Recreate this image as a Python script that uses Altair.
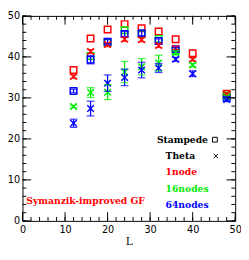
import altair as alt
import pandas as pd

# ---------------- data ----------------
L = [12, 16, 20, 24, 28, 32, 36, 40, 48]
stampede_1node = [36.8, 44.5, 46.7, 48.0, 47.0, 46.2, 44.3, 40.9, 31.0]
stampede_16_L = [16, 20, 24, 28, 32, 36, 48]
stampede_16 = [40.2, 43.5, 46.5, 45.6, 44.4, 41.5, 30.6]
stampede_64_L = [12, 16, 20, 24, 28, 32, 36, 48]
stampede_64 = [31.7, 39.3, 43.7, 45.6, 45.8, 43.9, 41.9, 30.0]
stampede_64_err = [0.4, 1.0, 0.5, 0.6, 0.6, 0.5, 0.4, 0.3]
theta_1node = [35.2, 41.3, 43.0, 44.3, 44.2, 42.8, 42.1, 39.4, 30.9]
theta_1node_err = [0.4, 0.5, 0.5, 0.5, 0.5, 0.5, 0.4, 0.4, 0.3]
theta_16 = [27.9, 31.3, 31.4, 36.3, 37.6, 38.5, 41.0, 38.0, 30.3]
theta_16_err = [0.3, 1.2, 1.8, 2.6, 2.0, 1.9, 0.5, 0.4, 0.3]
theta_64 = [23.8, 27.4, 33.6, 35.0, 36.8, 37.3, 39.4, 35.9, 29.6]
theta_64_err = [1.0, 1.8, 2.0, 2.0, 1.9, 1.1, 0.5, 0.7, 0.5]

node_names = ["1node", "16nodes", "64nodes"]
node_colors = ["#ff0000", "#00ee00", "#0000ff"]
major_ticks = [0, 10, 20, 30, 40, 50]
minor_ticks = list(range(0, 51, 2))
legend_labels = ["Stampede", "Theta", "1node", "16nodes", "64nodes", "Symanzik-improved GF"]

rows = []
def add(machine, nodes, Ls, vals, errs=None):
    for i, (l, v) in enumerate(zip(Ls, vals)):
        e = errs[i] if errs else 0.0
        rows.append({"machine": machine, "nodes": nodes, "order": node_names.index(nodes),
                     "L": l, "v": v, "lo": v - e, "hi": v + e, "err": e})

add("Stampede", "1node", L, stampede_1node)
add("Stampede", "16nodes", stampede_16_L, stampede_16)
add("Stampede", "64nodes", stampede_64_L, stampede_64, stampede_64_err)
add("Theta", "1node", L, theta_1node, theta_1node_err)
add("Theta", "16nodes", L, theta_16, theta_16_err)
add("Theta", "64nodes", L, theta_64, theta_64_err)
df = pd.DataFrame(rows).sort_values("order", kind="stable")
sq = df[df.machine == "Stampede"]
th = df[df.machine == "Theta"]
eb = df[df.err > 0]

W, H = 220, 212
xs = alt.Scale(domain=[0, 50], nice=False, zero=False)
ys = alt.Scale(domain=[0, 50], nice=False, zero=False)
col = alt.Color("nodes:N", scale=alt.Scale(domain=node_names, range=node_colors), legend=None)

x_axis = alt.Axis(orient="bottom", values=major_ticks, ticks=False, tickSize=0, domain=False, grid=False,
                  labelFont="DejaVu Sans", labelFontSize=10, labelColor="black", labelPadding=4,
                  labelFlush=False, title="L", titleFont="DejaVu Serif", titleFontSize=11,
                  titleFontWeight="normal", titleColor="black", titlePadding=1)
y_axis = alt.Axis(orient="left", values=major_ticks, ticks=False, tickSize=0, domain=False, grid=False,
                  labelFont="DejaVu Sans", labelFontSize=10, labelColor="black", labelPadding=3,
                  title=None)


def X(f):
    return alt.X(f, type="quantitative", scale=xs, axis=x_axis, title="L")


def Y(f):
    return alt.Y(f, type="quantitative", scale=ys, axis=y_axis)


squares = alt.Chart(sq).mark_point(shape="square", size=45, filled=False, strokeWidth=1.5, opacity=1).encode(
    x=X("L"), y=Y("v"), color=col)

crosses = alt.Chart(th).mark_point(shape="M-1,-1L1,1M-1,1L1,-1", size=45, filled=False,
                                   strokeWidth=1.5, opacity=1).encode(
    x=X("L"), y=Y("v"), color=col)

bars = alt.Chart(eb).mark_rule(strokeWidth=1.3).encode(
    x=X("L"), y=Y("lo"), y2="hi", color=col)

caps_lo = alt.Chart(eb).mark_tick(orient="horizontal", size=8, thickness=1.3).encode(
    x=X("L"), y=Y("lo"), color=col)

caps_hi = alt.Chart(eb).mark_tick(orient="horizontal", size=8, thickness=1.3).encode(
    x=X("L"), y=Y("hi"), color=col)

# inward frame ticks (axis decoration) built from the tick value lists
tick_layers = []
for vals, ln in ((major_ticks, 9), (minor_ticks, 4)):
    td = pd.DataFrame({"L": vals, "v": vals})
    base = alt.Chart(td).mark_rule(color="black", strokeWidth=1)
    tick_layers += [
        base.encode(x=X("L"), y=alt.value(H), y2=alt.value(H - ln)),
        base.encode(x=X("L"), y=alt.value(0), y2=alt.value(ln)),
        base.encode(y=Y("v"), x=alt.value(0), x2=alt.value(ln)),
        base.encode(y=Y("v"), x=alt.value(W), x2=alt.value(W - ln)),
    ]

one = pd.DataFrame({"k": [0]})
tfont = dict(font="DejaVu Serif", fontWeight="bold", fontSize=9.5, align="left", baseline="middle")
legend_layers = [
    alt.Chart(one).mark_text(text=legend_labels[0], color="black", **tfont).encode(x=alt.value(139), y=alt.value(128)),
    alt.Chart(one).mark_point(shape="square", size=25, filled=False, color="black", strokeWidth=1, opacity=1).encode(x=alt.value(199), y=alt.value(128)),
    alt.Chart(one).mark_text(text=legend_labels[1], color="black", **tfont).encode(x=alt.value(148), y=alt.value(145)),
    alt.Chart(one).mark_point(shape="M-1,-1L1,1M-1,1L1,-1", size=20, filled=False, color="black", strokeWidth=1, opacity=1).encode(x=alt.value(200), y=alt.value(145)),
    alt.Chart(one).mark_text(text=legend_labels[2], color=node_colors[0], **tfont).encode(x=alt.value(148), y=alt.value(162)),
    alt.Chart(one).mark_text(text=legend_labels[3], color=node_colors[1], **tfont).encode(x=alt.value(148), y=alt.value(179)),
    alt.Chart(one).mark_text(text=legend_labels[4], color=node_colors[2], **tfont).encode(x=alt.value(148), y=alt.value(196)),
    alt.Chart(one).mark_text(text=legend_labels[5], color=node_colors[0], **tfont).encode(x=alt.value(4), y=alt.value(192)),
]

chart = alt.layer(squares, crosses, bars, caps_lo, caps_hi, *tick_layers, *legend_layers).properties(
    width=W, height=H,
    autosize=alt.AutoSizeParams(type="none"),
    padding={"left": 15, "top": 4, "right": 6, "bottom": 28},
).configure_view(stroke="black", strokeWidth=1)

chart.save("out.html", embed_options={"renderer": "svg", "actions": False})
